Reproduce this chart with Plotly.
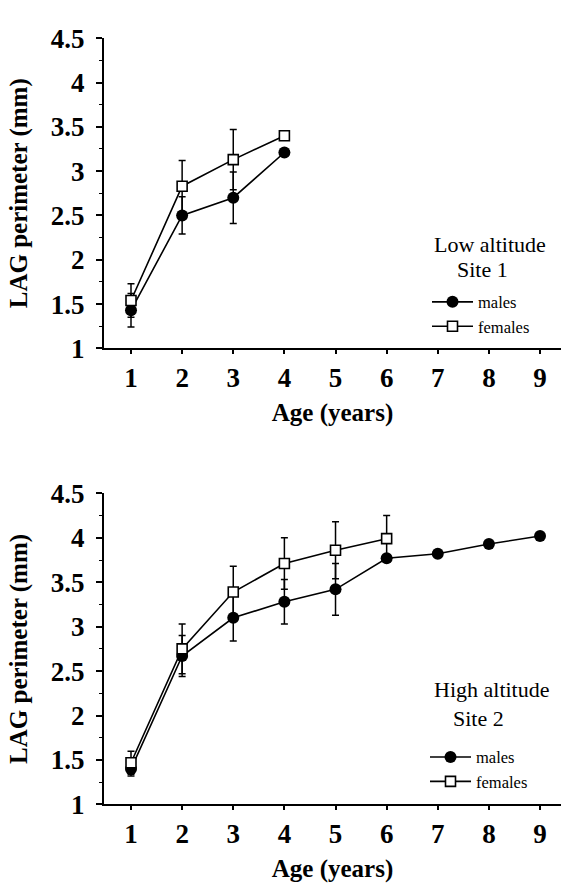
import plotly.graph_objects as go

# ---------------- data ----------------
ages_low_m = [1, 2, 3, 4]
low_males = [1.43, 2.50, 2.70, 3.21]
low_males_err = [0.19, 0.21, 0.29, None]
ages_low_f = [1, 2, 3, 4]
low_females = [1.54, 2.83, 3.13, 3.40]
low_females_err = [0.19, 0.29, 0.34, None]

ages_high_m = [1, 2, 3, 4, 5, 6, 7, 8, 9]
high_males = [1.40, 2.67, 3.10, 3.28, 3.42, 3.77, 3.82, 3.93, 4.02]
high_males_err = [0.08, 0.23, 0.26, 0.25, 0.29, None, None, None, None]
ages_high_f = [1, 2, 3, 4, 5, 6]
high_females = [1.47, 2.75, 3.39, 3.71, 3.86, 3.99]
high_females_err = [0.13, 0.28, 0.29, 0.29, 0.32, 0.26]

x_ticks = [1, 2, 3, 4, 5, 6, 7, 8, 9]
y_ticks = [1, 1.5, 2, 2.5, 3, 3.5, 4, 4.5]

W, H = 561, 891
SERIF = "Liberation Serif, Times New Roman, serif"

fig = go.Figure()

def add_pair(xm, ym, em, xf, yf, ef, xa, ya, leg):
    fig.add_trace(go.Scatter(
        x=xm, y=ym, mode="lines+markers", name="males",
        xaxis=xa, yaxis=ya, legend=leg,
        line=dict(color="black", width=1.6),
        marker=dict(symbol="circle", size=12, color="black"),
        error_y=dict(type="data", array=em, visible=True, color="black",
                     thickness=1.5, width=3.5),
    ))
    fig.add_trace(go.Scatter(
        x=xf, y=yf, mode="lines+markers", name="females",
        xaxis=xa, yaxis=ya, legend=leg,
        line=dict(color="black", width=1.6),
        marker=dict(symbol="square", size=10, color="white",
                    line=dict(color="black", width=1.6)),
        error_y=dict(type="data", array=ef, visible=True, color="black",
                     thickness=1.5, width=3.5),
    ))

add_pair(ages_low_m, low_males, low_males_err,
         ages_low_f, low_females, low_females_err, "x", "y", "legend")
add_pair(ages_high_m, high_males, high_males_err,
         ages_high_f, high_females, high_females_err, "x2", "y2", "legend2")

x_left = 104 / W
top_dom = [1 - 345 / H, 1 - 24 / H]
bot_dom = [1 - 817 / H, 1 - 495 / H]

tickfont = dict(family=SERIF, size=27, color="black", weight="bold")
titlefont = dict(family=SERIF, size=25, color="black", weight="bold")

def xaxis_cfg(anchor):
    return dict(
        domain=[x_left, 1.0], anchor=anchor, range=[0.472, 9.41],
        tickvals=x_ticks, ticks="outside", ticklen=4, tickwidth=1.5,
        tickcolor="black", showline=True, linecolor="black", linewidth=2,
        showgrid=False, zeroline=False, tickfont=tickfont,
        ticklabelstandoff=0,
        title=dict(text="Age (years)", font=titlefont, standoff=12),
    )

def yaxis_cfg(anchor, dom):
    return dict(
        domain=dom, anchor=anchor, range=[1, 4.5],
        tickvals=y_ticks, ticks="outside", ticklen=6, tickwidth=1.5,
        tickcolor="black", showline=True, linecolor="black", linewidth=2,
        showgrid=False, zeroline=False, tickfont=tickfont,
        ticklabelstandoff=6,
        minor=dict(dtick=0.25, tick0=1, ticks="outside", ticklen=3,
                   tickwidth=1, tickcolor="black", showgrid=False),
        title=dict(text="LAG perimeter (mm)", font=titlefont, standoff=16),
    )

legfont = dict(family=SERIF, size=16.5, color="black")

fig.update_layout(
    width=W, height=H,
    margin=dict(l=0, r=0, t=0, b=0),
    paper_bgcolor="white", plot_bgcolor="white",
    showlegend=True,
    xaxis=xaxis_cfg("y"), yaxis=yaxis_cfg("x", top_dom),
    xaxis2=xaxis_cfg("y2"), yaxis2=yaxis_cfg("x2", bot_dom),
    legend=dict(x=427 / W, y=1 - 279 / H, xanchor="left", yanchor="top",
                font=legfont, bgcolor="rgba(0,0,0,0)", borderwidth=0,
                itemwidth=41, tracegroupgap=0),
    legend2=dict(x=425 / W, y=1 - 750 / H, xanchor="left", yanchor="top",
                 font=legfont, bgcolor="rgba(0,0,0,0)", borderwidth=0,
                 itemwidth=41, tracegroupgap=0),
)

ann_font = dict(family=SERIF, size=22, color="black")
for text, cx, cy in [("Low altitude", 489.5, 237), ("Site 1", 482.5, 263),
                     ("High altitude", 491, 698), ("Site 2", 478, 728)]:
    fig.add_annotation(text=text, x=cx / W, y=1 - cy / H, xref="paper",
                       yref="paper", xanchor="center", yanchor="middle",
                       showarrow=False, font=ann_font)

fig.write_html("out.html")
